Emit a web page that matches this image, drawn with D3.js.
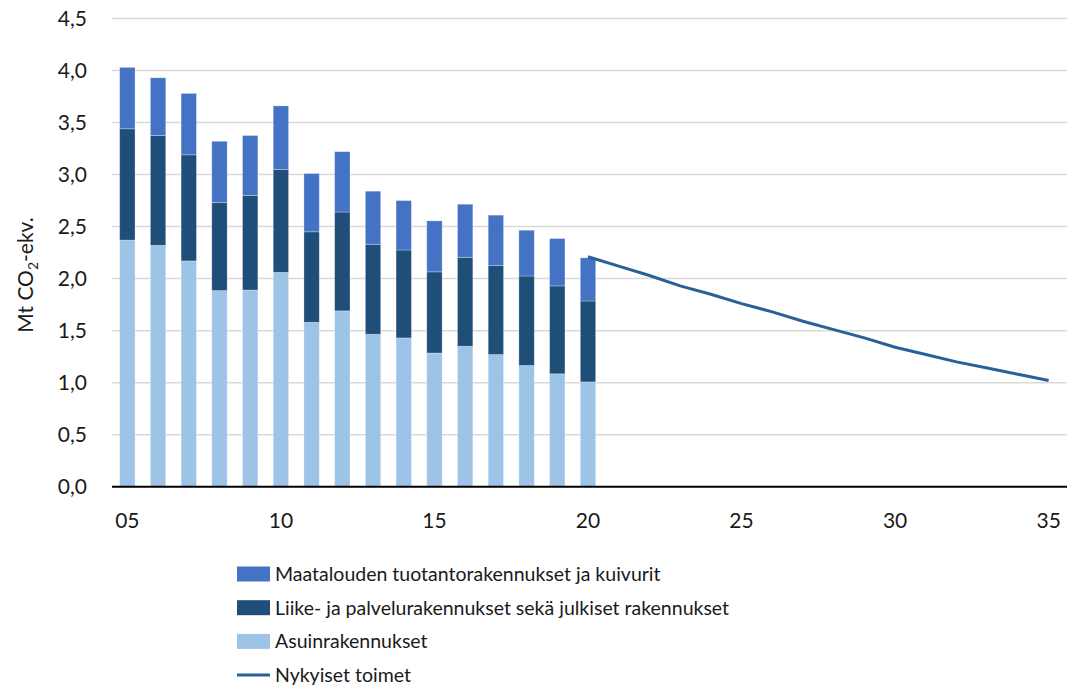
<!DOCTYPE html>
<html>
<head>
<meta charset="utf-8">
<script src="https://cdn.jsdelivr.net/npm/d3@7"></script>
<style>
  body { margin: 0; background: #fff; }
  svg text { font-family: Lato, "Open Sans", sans-serif; fill: #1a1a1a; }
</style>
</head>
<body>
<div id="chart"></div>
<script>
// ---- data ----
var years = ["05","06","07","08","09","10","11","12","13","14","15","16","17","18","19","20",
             "21","22","23","24","25","26","27","28","29","30","31","32","33","34","35"];
var barYears = ["05","06","07","08","09","10","11","12","13","14","15","16","17","18","19","20"];
var asuin   = [2.37, 2.32, 2.17, 1.885, 1.89, 2.06, 1.58, 1.69, 1.465, 1.43, 1.285, 1.35, 1.27, 1.165, 1.085, 1.007];
var liike   = [1.07, 1.055, 1.02, 0.845, 0.91, 0.99, 0.87, 0.95, 0.865, 0.845, 0.78, 0.855, 0.855, 0.86, 0.845, 0.778];
var maatalo = [0.59, 0.555, 0.59, 0.59, 0.575, 0.61, 0.56, 0.58, 0.51, 0.475, 0.49, 0.51, 0.485, 0.44, 0.455, 0.415];
var lineYears  = ["20","21","22","23","24","25","26","27","28","29","30","31","32","33","34","35"];
var lineValues = [2.21, 2.12, 2.03, 1.93, 1.85, 1.76, 1.68, 1.59, 1.51, 1.43, 1.34, 1.27, 1.20, 1.14, 1.08, 1.02];
var yTicks = [0, 0.5, 1, 1.5, 2, 2.5, 3, 3.5, 4, 4.5];
var xTickLabels = ["05","10","15","20","25","30","35"];

var seriesNames = ["Maatalouden tuotantorakennukset ja kuivurit",
                   "Liike- ja palvelurakennukset sekä julkiset rakennukset",
                   "Asuinrakennukset",
                   "Nykyiset toimet"];

function init() {
    var colors = {maatalo: "#4472C4", liike: "#1F4E79", asuin: "#9DC3E6", line: "#2A6099"};

    var w = 1067, h = 690;
    var plotLeft = 112, plotRight = 1064, plotTop = 18.5, plotBottom = 486.7;

    var svg = d3.select("#chart").append("svg")
        .attr("width", w).attr("height", h);

    var x = d3.scaleBand()
        .domain(years)
        .range([plotLeft, plotRight])
        .paddingInner(0.5)
        .paddingOuter(0.25);

    var y = d3.scaleLinear().domain([0, 4.5]).range([plotBottom, plotTop]);

    // gridlines
    svg.append("g").selectAll("line")
        .data(yTicks.slice(1))
        .enter().append("line")
        .attr("x1", plotLeft).attr("x2", w)
        .attr("y1", function(d){ return y(d); })
        .attr("y2", function(d){ return y(d); })
        .attr("stroke", "#d9d9d9").attr("stroke-width", 1.5);

    // stacked bars
    var rows = barYears.map(function(yr, i){
        return {year: yr, asuin: asuin[i], liike: liike[i], maatalo: maatalo[i]};
    });
    var layers = d3.stack().keys(["asuin","liike","maatalo"])(rows);

    svg.append("g").selectAll("g")
        .data(layers)
        .enter().append("g")
        .attr("fill", function(d){ return colors[d.key]; })
        .selectAll("rect")
        .data(function(d){ return d; })
        .enter().append("rect")
        .attr("x", function(d){ return x(d.data.year); })
        .attr("width", x.bandwidth())
        .attr("y", function(d){ return y(d[1]); })
        .attr("height", function(d){ return y(d[0]) - y(d[1]); })
        .attr("stroke", "#ffffff").attr("stroke-opacity", 0.35).attr("stroke-width", 0.8);

    // line
    var lineData = lineYears.map(function(yr, i){ return [yr, lineValues[i]]; });
    var line = d3.line()
        .x(function(d){ return x(d[0]) + x.bandwidth()/2; })
        .y(function(d){ return y(d[1]); });
    svg.append("path")
        .datum(lineData)
        .attr("d", line)
        .attr("fill", "none")
        .attr("stroke", colors.line)
        .attr("stroke-width", 3);

    // x axis
    var xAxis = d3.axisBottom(x).tickValues(xTickLabels).tickSize(0).tickPadding(26);
    var gx = svg.append("g")
        .attr("transform", "translate(0," + plotBottom + ")")
        .call(xAxis);
    gx.select(".domain").remove();
    gx.selectAll("text").style("font-size", "21px");
    svg.append("line")
        .attr("x1", plotLeft).attr("x2", w)
        .attr("y1", plotBottom).attr("y2", plotBottom)
        .attr("stroke", "#000").attr("stroke-width", 2);

    // y axis
    var yAxis = d3.axisLeft(y).tickValues(yTicks).tickSize(0).tickPadding(25)
        .tickFormat(function(d){ return d3.format(".1f")(d).replace(".", ","); });
    var gy = svg.append("g")
        .attr("transform", "translate(" + plotLeft + ",0)")
        .call(yAxis);
    gy.select(".domain").remove();
    gy.selectAll("text").style("font-size", "21px");

    // y title
    var yt = svg.append("text")
        .attr("transform", "translate(33,275) rotate(-90)")
        .attr("text-anchor", "middle")
        .style("font-size", "21px");
    yt.append("tspan").text("Mt CO");
    yt.append("tspan").text("2").attr("dy", 5).style("font-size", "14px");
    yt.append("tspan").text("-ekv.").attr("dy", -5);

    // legend
    var legendKeys = ["maatalo", "liike", "asuin", "line"];
    var legend = svg.append("g").attr("transform", "translate(237,574)");
    var item = legend.selectAll("g")
        .data(legendKeys)
        .enter().append("g")
        .attr("transform", function(d, i){ return "translate(0," + (i * 33.7) + ")"; });
    item.each(function(d){
        var g = d3.select(this);
        if (d === "line") {
            g.append("line").attr("x1", 0).attr("x2", 33).attr("y1", 0).attr("y2", 0)
                .attr("stroke", colors.line).attr("stroke-width", 3);
        } else {
            g.append("rect").attr("x", 0).attr("y", -7.5).attr("width", 33).attr("height", 15)
                .attr("fill", colors[d]);
        }
    });
    item.append("text")
        .attr("x", 38)
        .attr("dy", "0.35em")
        .style("font-size", "19.5px")
        .text(function(d, i){ return seriesNames[i]; });
}

window.onload = init;
</script>
</body>
</html>
